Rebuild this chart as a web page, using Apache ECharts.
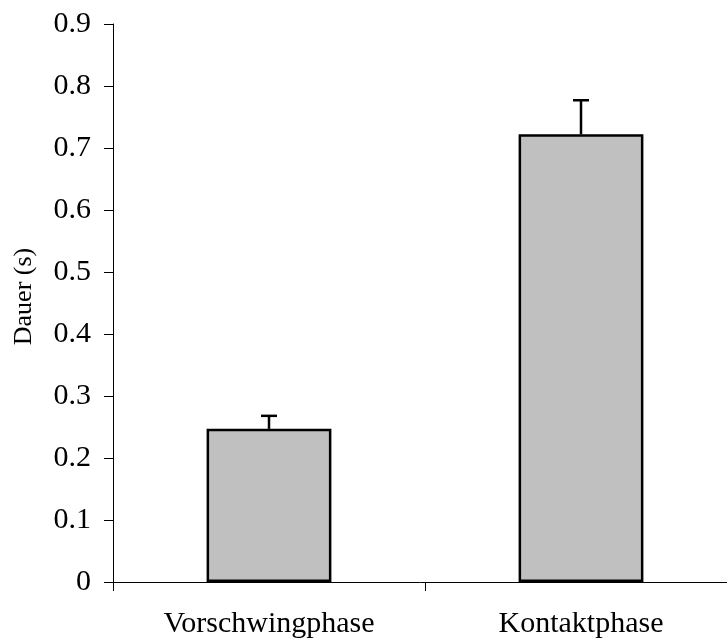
<!DOCTYPE html>
<html>
<head>
<meta charset="utf-8">
<script src="https://cdn.jsdelivr.net/npm/echarts@6/dist/echarts.min.js"></script>
<style>html,body{margin:0;padding:0;background:#fff;}#c{width:727px;height:640px;}</style>
</head>
<body>
<div id="c"></div>
<script>
var categories = ['Vorschwingphase', 'Kontaktphase'];
var means = [0.247, 0.722];
var errTops = [0.268, 0.777];
var yTicks = {min: 0, max: 0.9, interval: 0.1};

var chart = echarts.init(document.getElementById('c'), null, {renderer: 'canvas'});
var font = 'Liberation Serif';
chart.setOption({
  animation: false,
  backgroundColor: '#fff',
  grid: {left: 113, top: 24, width: 624, height: 558, containLabel: false, outerBoundsMode: 'none'},
  xAxis: {
    type: 'category',
    data: categories,
    boundaryGap: true,
    axisLine: {lineStyle: {color: '#000', width: 1}},
    axisTick: {show: true, length: 9, lineStyle: {color: '#000'}},
    axisLabel: {color: '#000', fontFamily: font, fontSize: 30, margin: 27}
  },
  yAxis: {
    type: 'value',
    min: yTicks.min, max: yTicks.max, interval: yTicks.interval,
    name: 'Dauer (s)',
    nameLocation: 'middle',
    nameGap: 76,
    nameTextStyle: {color: '#000', fontFamily: font, fontSize: 26, padding: [0, 0, 0, 13]},
    splitLine: {show: false},
    axisLine: {show: true, lineStyle: {color: '#000', width: 1}},
    axisTick: {show: true, length: 9, lineStyle: {color: '#000'}},
    axisLabel: {color: '#000', fontFamily: font, fontSize: 30, margin: 22,
      formatter: function (v) { return v === 0 ? '0' : v.toFixed(1); }}
  },
  series: [
    {
      type: 'bar',
      data: means,
      barWidth: '40%',
      itemStyle: {color: '#C0C0C0', borderColor: '#000', borderWidth: 2.5}
    },
    {
      type: 'custom',
      data: categories.map(function (c, i) { return [i, means[i], errTops[i]]; }),
      renderItem: function (params, api) {
        var base = api.coord([api.value(0), api.value(1)]);
        var top = api.coord([api.value(0), api.value(2)]);
        var half = 8;
        return {
          type: 'group',
          children: [
            {type: 'line', shape: {x1: base[0], y1: base[1], x2: top[0], y2: top[1]}, style: {stroke: '#000', lineWidth: 2.5}},
            {type: 'line', shape: {x1: top[0] - half, y1: top[1], x2: top[0] + half, y2: top[1]}, style: {stroke: '#000', lineWidth: 2.5}}
          ]
        };
      },
      z: 10
    }
  ]
});
</script>
</body>
</html>
